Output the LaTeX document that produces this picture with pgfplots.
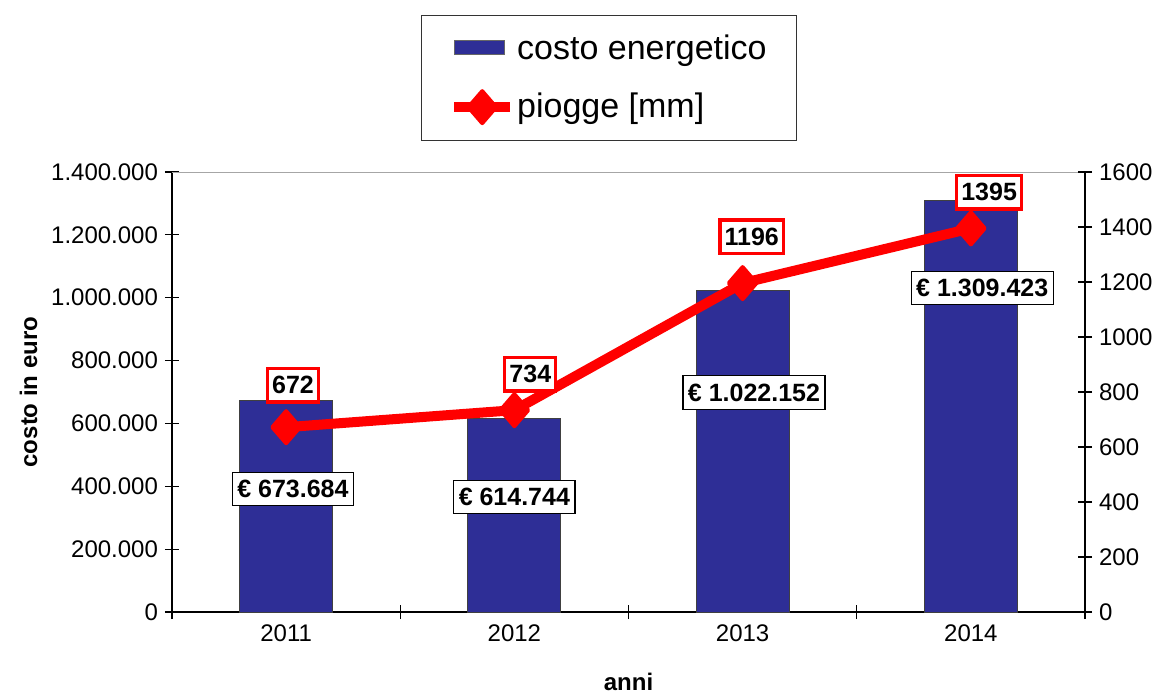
\documentclass[border=0pt]{standalone}
\usepackage{fontspec}
\setmainfont{Liberation Sans}
\usepackage{pgfplots}
\pgfplotsset{compat=1.18}
\definecolor{barblue}{RGB}{46,46,150}
\definecolor{linered}{RGB}{255,0,0}
\pgfplotsset{
  lineleg/.style={legend image code/.code={\draw[##1, mark repeat=2, mark phase=2] plot coordinates {(0pt,0pt) (14pt,0pt) (28pt,0pt)};}},
  barleg/.style={legend image code/.code={\fill[barblue, draw=black!60] (0pt,-3pt) rectangle (25pt,4pt);}},
}

\begin{document}
\begin{tikzpicture}
\useasboundingbox (-86pt,-40.5pt) rectangle (500.5pt,306pt);
\pgfplotsset{
  common/.style={
    scale only axis, width=456.5pt, height=220pt,
    xmin=-0.5, xmax=3.5,
    tick align=center, major tick length=7pt,
    tick style={black, line width=0.6pt},
    tick label style={font=\fontsize{12}{14}\selectfont},
    /pgf/number format/assume math mode=true,
    axis line style={black, line width=0.6pt},
  },
}
\tikzset{
  elabel/.style={draw=black, line width=0.6pt, fill=white, inner xsep=2.5pt, inner ysep=4pt,
    font=\fontsize{12.5}{14}\selectfont\bfseries},
  rlabel/.style={draw=linered, line width=1.6pt, fill=white, inner xsep=2.3pt, inner ysep=4pt,
    font=\fontsize{12.5}{14}\selectfont\bfseries},
}

% costo energetico (asse sinistro)
\begin{axis}[common,
  axis x line*=bottom, axis y line*=left,
  ymin=0, ymax=1400000, ytick={0,200000,...,1400000},
  scaled y ticks=false,
  yticklabel style={/pgf/number format/fixed, /pgf/number format/1000 sep={.}},
  xtick={-0.5,0.5,1.5,2.5,3.5}, xticklabels={},
  extra x ticks={0,1,2,3}, extra x tick labels={2011,2012,2013,2014},
  extra x tick style={major tick length=0pt, tick label style={yshift=-3pt}},
  ylabel={\textbf{costo in euro}},
  ylabel style={at={(axis description cs:-0.157,0.5)}, anchor=center, font=\fontsize{12}{14}\selectfont},
  xlabel={\textbf{anni}},
  xlabel style={at={(axis description cs:0.5,-0.159)}, anchor=center, font=\fontsize{12}{14}\selectfont},
]
\addplot[ybar, bar width=46.5pt, fill=barblue, draw=black!75, line width=0.5pt]
  coordinates {(0,673684) (1,614744) (2,1022152) (3,1309423)};
\draw[gray!70, line width=0.6pt] (rel axis cs:0,1) -- (rel axis cs:1,1);
\node[elabel] at (axis cs:0.03,391364) {€ 673.684};
\node[elabel] at (axis cs:1.0,365909) {€ 614.744};
\node[elabel] at (axis cs:2.05,698409) {€ 1.022.152};
\node[elabel] at (axis cs:3.05,1030909) {€ 1.309.423};
\end{axis}

% piogge (asse destro)
\begin{axis}[common,
  axis y line*=right, axis x line=none,
  ymin=0, ymax=1600, ytick={0,200,...,1600},
  yticklabel style={/pgf/number format/1000 sep={}},
  xtick=\empty,
  legend style={at={(0.4786,1.357)}, anchor=north, draw=black!80, line width=0.6pt,
    font=\fontsize{17}{20}\selectfont, inner xsep=14pt, inner ysep=8.5pt,
    row sep=13.5pt, nodes={inner sep=1pt}},
  legend cell align=left,
]
\addlegendimage{barleg}
\addlegendentry{costo energetico}
\addplot[linered, line width=5pt, mark=diamond*, mark size=8pt,
  mark options={solid, line width=2pt, line join=round, xscale=1.15}, lineleg]
  coordinates {(0,672) (1,734) (2,1196) (3,1395)};
\addlegendentry{piogge [mm]}
\node[rlabel] at (axis cs:0.03,825) {672};
\node[rlabel] at (axis cs:1.07,865) {734};
\node[rlabel] at (axis cs:2.04,1364) {1196};
\node[rlabel] at (axis cs:3.08,1527) {1395};
\end{axis}
\end{tikzpicture}
\end{document}
